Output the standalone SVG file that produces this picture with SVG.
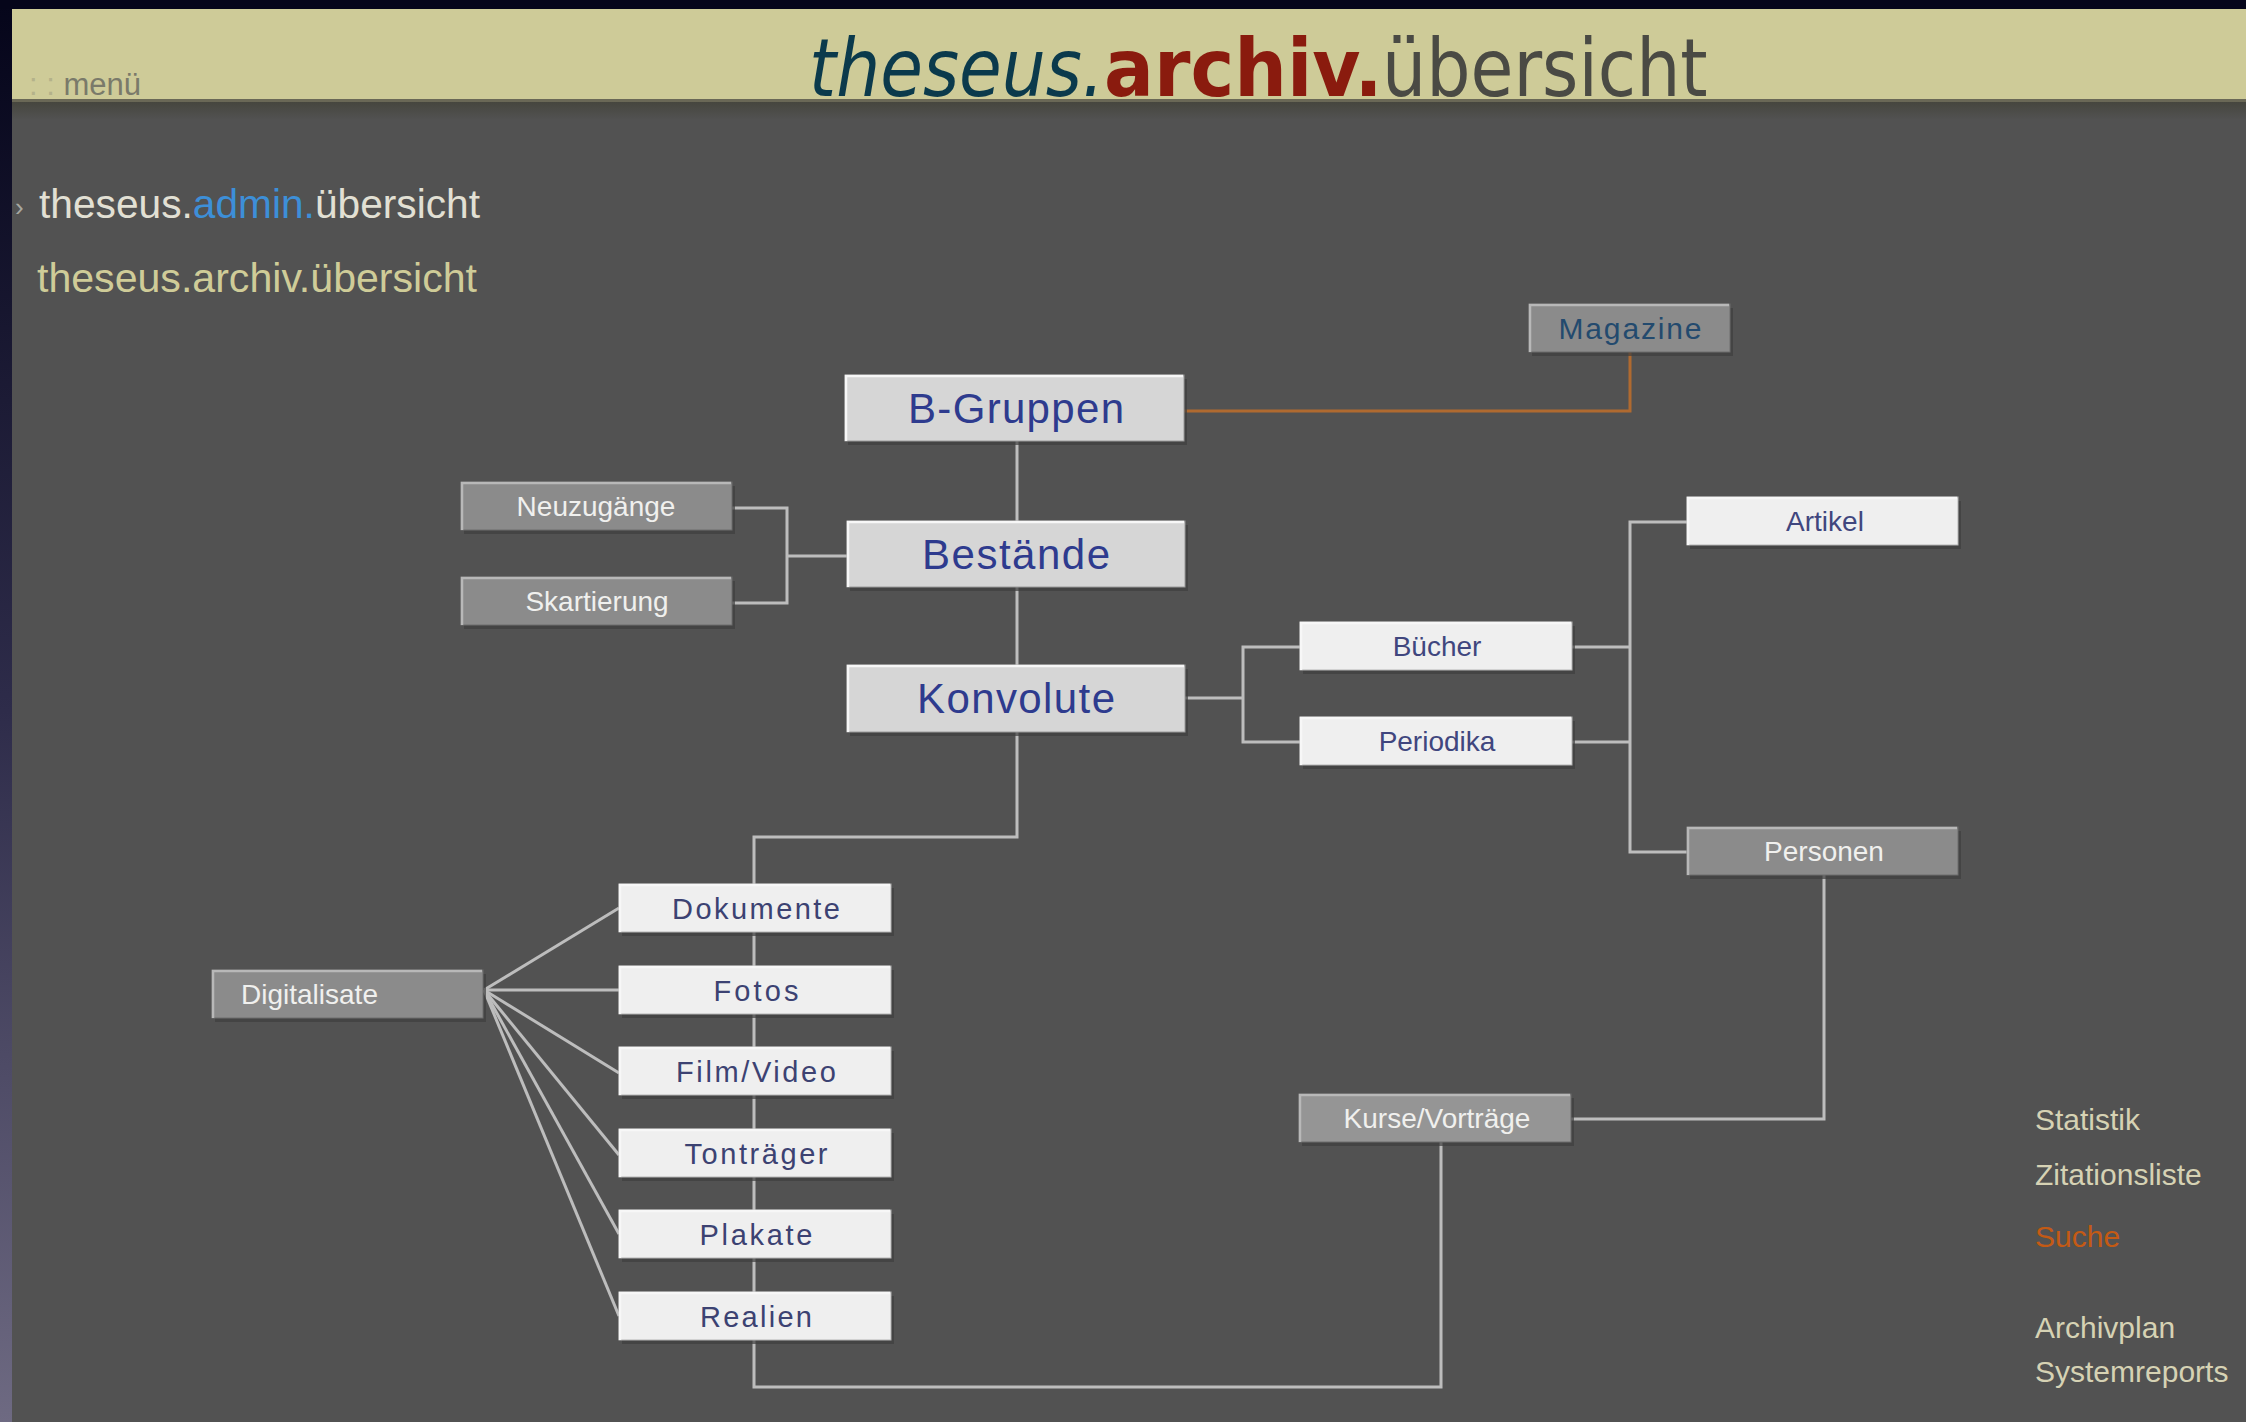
<svg xmlns="http://www.w3.org/2000/svg" width="2246" height="1422" viewBox="0 0 2246 1422">
<defs>
<linearGradient id="strip" x1="0" y1="0" x2="0" y2="1">
<stop offset="0" stop-color="#05051a"/>
<stop offset="0.5" stop-color="#2e2c4a"/>
<stop offset="1" stop-color="#6e6a82"/>
</linearGradient>
<linearGradient id="hshadow" x1="0" y1="0" x2="0" y2="1">
<stop offset="0" stop-color="#46463e"/>
<stop offset="1" stop-color="#525252"/>
</linearGradient>
<style>
.sh{fill:#3e3e3e;opacity:0.7}
.lt{fill:#d6d6d6;stroke:#9a9a9a;stroke-width:1}
.wt{fill:#efefef;stroke:#b4b4b4;stroke-width:1}
.gr{fill:#8b8b8b;stroke:#6c6c6c;stroke-width:1}
.hl{fill:none;stroke:#f7f7f7;stroke-width:2.5}
.hg{fill:none;stroke:#b8b8b8;stroke-width:2.5}
.big{font-family:"Liberation Sans",Arial,sans-serif;font-size:42px;fill:#2e3b8e;text-anchor:middle}
.sm{font-family:"Liberation Sans",Arial,sans-serif;font-size:28px;fill:#40467e;text-anchor:middle}
.col{font-family:"Liberation Sans",Arial,sans-serif;font-size:29px;fill:#3c4272;text-anchor:middle}
.wtx{font-family:"Liberation Sans",Arial,sans-serif;font-size:28px;fill:#f0f0ee;text-anchor:middle}
.con{fill:none;stroke:#bdbdbd;stroke-width:3}
.org{fill:none;stroke:#b06a30;stroke-width:3}
.menu{font-family:"Liberation Sans",Arial,sans-serif;font-size:30px;fill:#d6d2b4}
.ttl{font-family:"DejaVu Sans",Verdana,sans-serif;font-size:80px}
</style>
</defs>

<!-- background -->
<rect x="0" y="0" width="2246" height="1422" fill="#525252"/>
<rect x="0" y="0" width="12" height="1422" fill="url(#strip)"/>
<rect x="0" y="0" width="2246" height="9" fill="#05051a"/>
<rect x="12" y="9" width="2234" height="90" fill="#cecb98"/>
<rect x="12" y="99" width="2234" height="3" fill="#6a6856"/>
<rect x="12" y="102" width="2234" height="18" fill="url(#hshadow)"/>

<!-- header -->
<g id="header">
<text x="29" y="95" font-family="'Liberation Sans',Arial,sans-serif" font-size="31" fill="#7a7a6a"><tspan fill="#b4b28a">: : </tspan>menü</text>
<text class="ttl" transform="translate(809,96) scale(0.868,1)" font-style="italic" fill="#0b3a4c">theseus.</text>
<text class="ttl" transform="translate(1104,96) scale(0.925,1)" font-weight="bold" fill="#8a1b0e">archiv.</text>
<text class="ttl" transform="translate(1382,96) scale(0.872,1)" fill="#4a4a44">übersicht</text>
</g>

<!-- left menu -->
<g id="left-menu" font-family="'Liberation Sans',Arial,sans-serif">
<text x="15" y="216" font-size="26" fill="#a8a8a0">›</text>
<text x="39" y="218" font-size="40" textLength="441" lengthAdjust="spacingAndGlyphs" fill="#e2e0d4">theseus.<tspan fill="#3d8fd8">admin.</tspan>übersicht</text>
<text x="37" y="292" font-size="40" textLength="440" lengthAdjust="spacingAndGlyphs" fill="#cfcc98">theseus.archiv.übersicht</text>
</g>

<!-- connectors -->
<g id="connectors">
<path class="con" d="M1017 441 V521"/>
<path class="con" d="M1017 587 V665"/>
<path class="org" d="M1184 411 H1630 V352"/>
<path class="con" d="M732 508 H787 V603 H732 M787 556 H847"/>
<path class="con" d="M1185 698 H1243 M1300 647 H1243 V742 H1300"/>
<path class="con" d="M1572 647 H1630 M1572 742 H1630 M1687 522 H1630 V852 H1687"/>
<path class="con" d="M1824 875 V1119 H1571"/>
<path class="con" d="M1441 1142 V1387 H754 V837 H1017 V732"/>
<g class="con" stroke-width="2.5">
<path d="M484 990 L619 908"/>
<path d="M484 990 L619 990"/>
<path d="M484 990 L619 1073"/>
<path d="M484 990 L619 1155"/>
<path d="M484 990 L619 1234"/>
<path d="M484 990 L619 1316"/>
</g>
</g>

<!-- nodes -->
<g id="n-bgruppen">
<rect class="sh" x="848" y="379" width="339" height="66"/>
<rect class="lt" x="845" y="375" width="339" height="66"/>
<path class="hl" d="M846 441 V376 H1183"/>
<text class="big" x="1016" y="423" textLength="216" lengthAdjust="spacing">B-Gruppen</text>
</g>
<g id="n-bestaende">
<rect class="sh" x="850" y="525" width="338" height="66"/>
<rect class="lt" x="847" y="521" width="338" height="66"/>
<path class="hl" d="M848 587 V522 H1184"/>
<text class="big" x="1016" y="569" textLength="188" lengthAdjust="spacing">Bestände</text>
</g>
<g id="n-konvolute">
<rect class="sh" x="850" y="669" width="338" height="67"/>
<rect class="lt" x="847" y="665" width="338" height="67"/>
<path class="hl" d="M848 732 V666 H1184"/>
<text class="big" x="1016" y="713" textLength="198" lengthAdjust="spacing">Konvolute</text>
</g>
<g id="n-magazine">
<rect class="sh" x="1532" y="308" width="201" height="48"/>
<rect class="gr" x="1529" y="304" width="201" height="48"/>
<path class="hg" d="M1530 352 V305 H1729"/>
<text class="sm" x="1630" y="339" style="fill:#234a6e;font-size:30px" textLength="143" lengthAdjust="spacing">Magazine</text>
</g>
<g id="n-neuzugaenge">
<rect class="sh" x="464" y="486" width="271" height="48"/>
<rect class="gr" x="461" y="482" width="271" height="48"/>
<path class="hg" d="M462 530 V483 H731"/>
<text class="wtx" x="596" y="516">Neuzugänge</text>
</g>
<g id="n-skartierung">
<rect class="sh" x="464" y="581" width="271" height="48"/>
<rect class="gr" x="461" y="577" width="271" height="48"/>
<path class="hg" d="M462 625 V578 H731"/>
<text class="wtx" x="597" y="611">Skartierung</text>
</g>
<g id="n-buecher">
<rect class="sh" x="1303" y="626" width="272" height="48"/>
<rect class="wt" x="1300" y="622" width="272" height="48"/>
<path class="hl" d="M1301 670 V623 H1571"/>
<text class="sm" x="1437" y="656">Bücher</text>
</g>
<g id="n-periodika">
<rect class="sh" x="1303" y="721" width="272" height="48"/>
<rect class="wt" x="1300" y="717" width="272" height="48"/>
<path class="hl" d="M1301 765 V718 H1571"/>
<text class="sm" x="1437" y="751">Periodika</text>
</g>
<g id="n-artikel">
<rect class="sh" x="1690" y="501" width="271" height="48"/>
<rect class="wt" x="1687" y="497" width="271" height="48"/>
<path class="hl" d="M1688 545 V498 H1957"/>
<text class="sm" x="1825" y="531">Artikel</text>
</g>
<g id="n-personen">
<rect class="sh" x="1690" y="831" width="271" height="48"/>
<rect class="gr" x="1687" y="827" width="271" height="48"/>
<path class="hg" d="M1688 875 V828 H1957"/>
<text class="wtx" x="1824" y="861">Personen</text>
</g>
<g id="n-kurse">
<rect class="sh" x="1302" y="1098" width="272" height="48"/>
<rect class="gr" x="1299" y="1094" width="272" height="48" style="fill:#959595"/>
<path class="hg" d="M1300 1142 V1095 H1570"/>
<text class="wtx" x="1437" y="1128">Kurse/Vorträge</text>
</g>
<g id="n-digitalisate">
<rect class="sh" x="215" y="974" width="271" height="48"/>
<rect class="gr" x="212" y="970" width="271" height="48"/>
<path class="hg" d="M213 1018 V971 H482"/>
<text class="wtx" x="241" y="1004" style="text-anchor:start">Digitalisate</text>
</g>
<g id="n-dokumente">
<rect class="sh" x="622" y="888" width="272" height="48"/>
<rect class="wt" x="619" y="884" width="272" height="48"/>
<path class="hl" d="M620 932 V885 H890"/>
<text class="col" x="756" y="919" textLength="168" lengthAdjust="spacing">Dokumente</text>
</g>
<g id="n-fotos">
<rect class="sh" x="622" y="970" width="272" height="48"/>
<rect class="wt" x="619" y="966" width="272" height="48"/>
<path class="hl" d="M620 1014 V967 H890"/>
<text class="col" x="756" y="1001" textLength="85" lengthAdjust="spacing">Fotos</text>
</g>
<g id="n-filmvideo">
<rect class="sh" x="622" y="1051" width="272" height="48"/>
<rect class="wt" x="619" y="1047" width="272" height="48"/>
<path class="hl" d="M620 1095 V1048 H890"/>
<text class="col" x="756" y="1082" textLength="160" lengthAdjust="spacing">Film/Video</text>
</g>
<g id="n-tontraeger">
<rect class="sh" x="622" y="1133" width="272" height="48"/>
<rect class="wt" x="619" y="1129" width="272" height="48"/>
<path class="hl" d="M620 1177 V1130 H890"/>
<text class="col" x="756" y="1164" textLength="143" lengthAdjust="spacing">Tonträger</text>
</g>
<g id="n-plakate">
<rect class="sh" x="622" y="1214" width="272" height="48"/>
<rect class="wt" x="619" y="1210" width="272" height="48"/>
<path class="hl" d="M620 1258 V1211 H890"/>
<text class="col" x="756" y="1245" textLength="113" lengthAdjust="spacing">Plakate</text>
</g>
<g id="n-realien">
<rect class="sh" x="622" y="1296" width="272" height="48"/>
<rect class="wt" x="619" y="1292" width="272" height="48"/>
<path class="hl" d="M620 1340 V1293 H890"/>
<text class="col" x="756" y="1327" textLength="112" lengthAdjust="spacing">Realien</text>
</g>

<!-- right menu -->
<g id="right-menu">
<text class="menu" x="2035" y="1130">Statistik</text>
<text class="menu" x="2035" y="1185">Zitationsliste</text>
<text class="menu" x="2035" y="1247" style="fill:#c45a14">Suche</text>
<text class="menu" x="2035" y="1338">Archivplan</text>
<text class="menu" x="2035" y="1382">Systemreports</text>
</g>
</svg>
